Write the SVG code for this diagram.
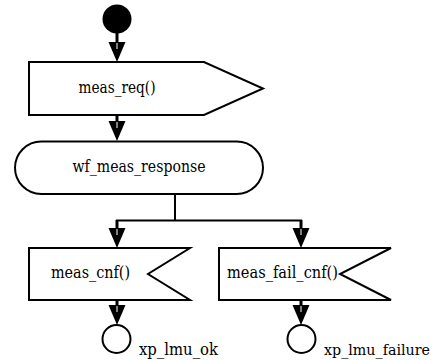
<svg xmlns="http://www.w3.org/2000/svg" xmlns:xlink="http://www.w3.org/1999/xlink" width="435" height="360" viewBox="0 0 435 360">
  <style>
    .shape { fill: #ffffff; stroke: #000000; stroke-width: 2; stroke-linejoin: miter; }
    .wire { fill: none; stroke: #000000; stroke-width: 2; }
    .stem { fill: none; stroke: #000000; stroke-width: 3; }
  </style>
  <defs>
    <!-- arrowhead, tip at origin pointing down -->
    <g id="ah">
      <polygon points="-8.5,-20 8.5,-20 0,0" fill="#000000"/>
      <line x1="0" y1="-19" x2="0" y2="-13" stroke="#ffffff" stroke-width="1"/>
    </g>
  </defs>

  <g font-family="'DejaVu Serif', serif" font-size="16" fill="#000000">
    <!-- start -->
    <g id="start">
      <circle cx="117" cy="19" r="14.5" fill="#000000"/>
    </g>

    <!-- output signal -->
    <g id="meas_req">
      <polygon class="shape" points="29,62 204,62 263,88.5 204,115 29,115"/>
      <text x="117" y="93" text-anchor="middle" textLength="77" lengthAdjust="spacingAndGlyphs">meas_req()</text>
    </g>

    <!-- state -->
    <g id="wf_meas_response">
      <rect class="shape" x="15" y="141.5" width="248" height="52.5" rx="26.25" ry="26.25"/>
      <text x="139" y="172" text-anchor="middle" textLength="133" lengthAdjust="spacingAndGlyphs">wf_meas_response</text>
    </g>

    <!-- input signals -->
    <g id="meas_cnf">
      <polygon class="shape" points="29,248 190,248 148,274 190,300 29,300"/>
      <text x="51" y="278" textLength="79" lengthAdjust="spacingAndGlyphs">meas_cnf()</text>
    </g>
    <g id="meas_fail_cnf">
      <polygon class="shape" points="219,248 391,248 340,274 391,300 219,300"/>
      <text x="227" y="278" textLength="111" lengthAdjust="spacingAndGlyphs">meas_fail_cnf()</text>
    </g>

    <!-- exit points -->
    <g id="xp_lmu_ok">
      <circle class="shape" cx="116.5" cy="339" r="14" stroke-width="1.5"/>
      <text x="139" y="355" textLength="79" lengthAdjust="spacingAndGlyphs">xp_lmu_ok</text>
    </g>
    <g id="xp_lmu_failure">
      <circle class="shape" cx="301.5" cy="339" r="14" stroke-width="1.5"/>
      <text x="324" y="355" font-size="14.5" textLength="106" lengthAdjust="spacingAndGlyphs">xp_lmu_failure</text>
    </g>
  </g>

  <!-- connectors -->
  <g id="connectors">
    <line class="stem" x1="117" y1="33" x2="117" y2="43"/>
    <use xlink:href="#ah" transform="translate(117,62)"/>

    <line class="stem" x1="117" y1="115" x2="117" y2="122"/>
    <use xlink:href="#ah" transform="translate(117,141)"/>

    <line class="wire" x1="175" y1="194" x2="175" y2="220.5"/>
    <line class="wire" x1="116" y1="220.5" x2="302" y2="220.5"/>

    <line class="stem" x1="117" y1="220" x2="117" y2="229"/>
    <use xlink:href="#ah" transform="translate(117,248)"/>
    <line class="stem" x1="301" y1="220" x2="301" y2="229"/>
    <use xlink:href="#ah" transform="translate(301,248)"/>

    <line class="stem" x1="117" y1="300" x2="117" y2="306"/>
    <use xlink:href="#ah" transform="translate(117,325)"/>
    <line class="stem" x1="301" y1="300" x2="301" y2="306"/>
    <use xlink:href="#ah" transform="translate(301,325)"/>
  </g>
</svg>
